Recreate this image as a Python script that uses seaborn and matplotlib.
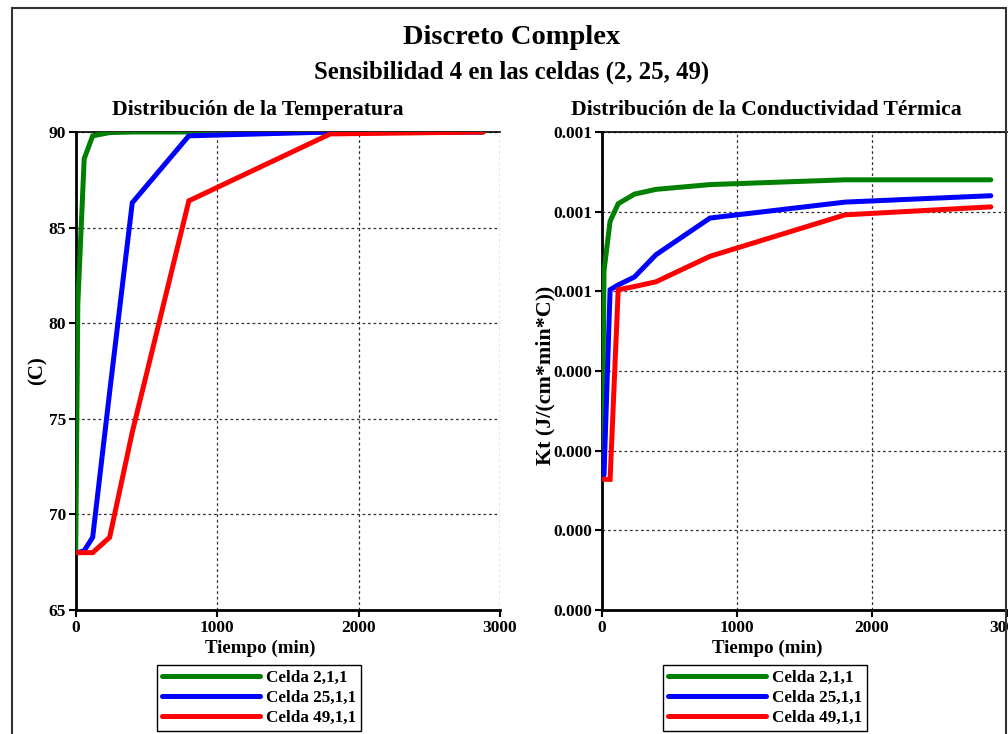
import matplotlib
matplotlib.use("Agg")
import matplotlib.pyplot as plt
import seaborn as sns
import pandas as pd
from matplotlib.lines import Line2D
from matplotlib.patches import Rectangle
from matplotlib.ticker import FixedLocator, FixedFormatter

# ---- data -------------------------------------------------------------
tiempo = [0, 15, 60, 120, 240, 400, 800, 1800, 2880]
celdas = ["Celda 2,1,1", "Celda 25,1,1", "Celda 49,1,1"]

temp_celda_2 = [68.0, 81.0, 88.6, 89.8, 89.97, 90.0, 90.0, 90.0, 90.0]
temp_celda_25 = [68.0, 68.0, 68.1, 68.8, 76.4, 86.3, 89.8, 90.0, 90.0]
temp_celda_49 = [68.0, 68.0, 68.0, 68.0, 68.8, 74.3, 86.4, 89.9, 90.0]

kt_celda_2 = [0.000383, 0.000513, 0.000544, 0.000555, 0.000561, 0.000564, 0.000567, 0.000570, 0.000570]
kt_celda_25 = [0.000383, 0.000385, 0.000501, 0.000504, 0.000509, 0.000523, 0.000546, 0.000556, 0.000560]
kt_celda_49 = [0.000382, 0.000382, 0.000382, 0.000501, 0.000503, 0.000506, 0.000522, 0.000548, 0.000553]

temp_ticks = [65, 70, 75, 80, 85, 90]
kt_ticks = [0.00030, 0.00035, 0.00040, 0.00045, 0.00050, 0.00055, 0.00060]
kt_tick_labels = ["0.000", "0.000", "0.000", "0.000", "0.001", "0.001", "0.001"]
time_ticks = [0, 1000, 2000, 3000]

colores = {"Celda 2,1,1": "#008000", "Celda 25,1,1": "#0000FF", "Celda 49,1,1": "#FF0000"}

# long-form tables for seaborn
temp_df = pd.concat(
    [pd.DataFrame({"Tiempo": tiempo, "valor": v, "celda": c})
     for c, v in zip(celdas, [temp_celda_2, temp_celda_25, temp_celda_49])],
    ignore_index=True)
kt_df = pd.concat(
    [pd.DataFrame({"Tiempo": tiempo, "valor": v, "celda": c})
     for c, v in zip(celdas, [kt_celda_2, kt_celda_25, kt_celda_49])],
    ignore_index=True)

# ---- style -----------------------------------------------------------
sns.set_theme(style="white")
plt.rcParams["font.family"] = ["Liberation Serif", "DejaVu Serif"]
plt.rcParams["font.weight"] = "bold"
for key in ("text.color", "axes.labelcolor", "xtick.color", "ytick.color"):
    plt.rcParams[key] = "black"

W, H = 1008, 734
fig = plt.figure(figsize=(W / 100, H / 100), dpi=100)


def fx(px):
    return px / W


def fy(py):
    return 1 - py / H


ax1 = fig.add_axes([fx(75.7), fy(610), fx(500) - fx(75.7), fy(132) - fy(610)])
ax2 = fig.add_axes([fx(602), fy(610), fx(1007) - fx(602), fy(132) - fy(610)])

for ax, df in ((ax1, temp_df), (ax2, kt_df)):
    sns.lineplot(data=df, x="Tiempo", y="valor", hue="celda", hue_order=celdas,
                 palette=colores, linewidth=3.6, legend=False, ax=ax,
                 solid_joinstyle="miter", zorder=3)
    ax.set_xlim(0, 3000)
    ax.xaxis.set_major_locator(FixedLocator(time_ticks))
    ax.set_xlabel("")
    ax.set_ylabel("")
    ax.grid(True, color="#333333", linestyle=(0, (2.2, 2.2)), linewidth=0.9)
    ax.set_axisbelow(True)
    for s in ("left", "bottom"):
        ax.spines[s].set_color("black")
        ax.spines[s].set_linewidth(2.0)
    ax.spines["top"].set_color("black")
    ax.spines["top"].set_linewidth(1.2)
    ax.spines["right"].set_visible(False)
    ax.tick_params(axis="both", which="major", direction="out", length=5,
                   width=1.5, color="black", labelcolor="black", labelsize=12.5,
                   pad=2, bottom=True, left=True, top=False, right=False)
    for lab in ax.get_xticklabels() + ax.get_yticklabels():
        lab.set_fontweight("bold")

ax1.set_ylim(65, 90)
ax1.yaxis.set_major_locator(FixedLocator(temp_ticks))

ax2.set_ylim(kt_ticks[0], kt_ticks[-1])
ax2.yaxis.set_major_locator(FixedLocator(kt_ticks))
ax2.yaxis.set_major_formatter(FixedFormatter(kt_tick_labels))
for lab in ax2.get_yticklabels():
    lab.set_fontweight("bold")

# ---- titles and labels ------------------------------------------------
fig.text(fx(512), fy(37), "Discreto Complex", ha="center", va="center",
         fontsize=20.5, fontweight="bold")
fig.text(fx(512), fy(72), "Sensibilidad 4 en las celdas (2, 25, 49)",
         ha="center", va="center", fontsize=17.8, fontweight="bold")
fig.text(fx(258), fy(110), "Distribución de la Temperatura", ha="center",
         va="center", fontsize=15.6, fontweight="bold")
fig.text(fx(766), fy(110), "Distribución de la Conductividad Térmica",
         ha="center", va="center", fontsize=15.6, fontweight="bold")
fig.text(fx(260), fy(648), "Tiempo (min)", ha="center", va="center",
         fontsize=13.6, fontweight="bold")
fig.text(fx(767), fy(648), "Tiempo (min)", ha="center", va="center",
         fontsize=13.6, fontweight="bold")
fig.text(fx(38), fy(371), "(C)", ha="center", va="center", rotation=90,
         fontsize=15, fontweight="bold")
fig.text(fx(545), fy(375), "Kt (J/(cm*min*C))", ha="center", va="center",
         rotation=90, fontsize=15.8, fontweight="bold")

# ---- legends ----------------------------------------------------------
handles = [Line2D([0], [0], color=colores[c], linewidth=3.6) for c in celdas]
for ax, cx in ((ax1, 259), (ax2, 765)):
    leg = ax.legend(handles, celdas, loc="upper center",
                    bbox_to_anchor=(fx(cx), fy(665)),
                    bbox_transform=fig.transFigure, frameon=True,
                    fancybox=False, framealpha=1, edgecolor="black",
                    handlelength=5.7, handletextpad=0.35, labelspacing=0.24,
                    borderpad=0.28, borderaxespad=0,
                    prop={"family": "Liberation Serif", "weight": "bold", "size": 12.3})
    leg.get_frame().set_linewidth(1.0)

# outer frame of the sheet
fig.patches.append(Rectangle((fx(12), fy(800)), fx(1006) - fx(12), fy(8) - fy(800),
                             transform=fig.transFigure, fill=False,
                             edgecolor="#333333", linewidth=1.5, zorder=0))

fig.savefig("out.png", dpi=100)
